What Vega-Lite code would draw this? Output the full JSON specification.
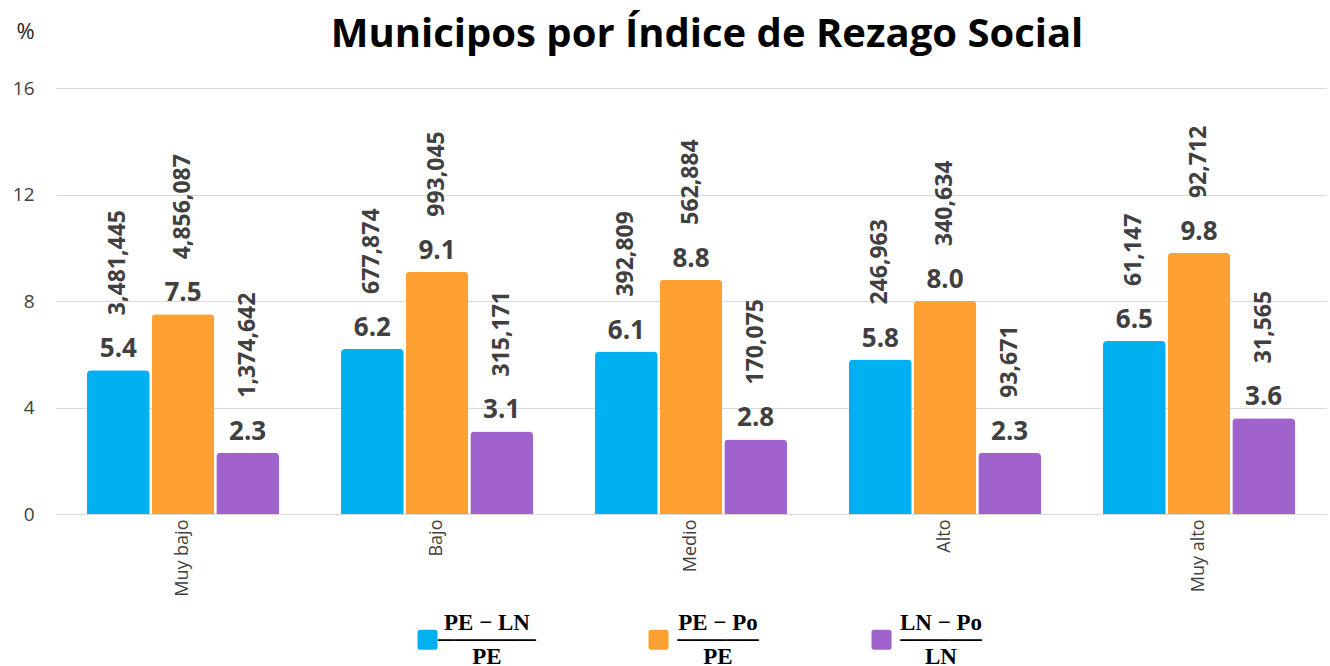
{
  "$schema": "https://vega.github.io/schema/vega-lite/v6.json",
  "width": 1270,
  "height": 426,
  "autosize": "none",
  "padding": {"left": 56, "top": 88, "right": 4, "bottom": 152},
  "config": {"view": {"stroke": null}, "font": "Open Sans"},
  "title": {
    "text": "Municipos por Índice de Rezago Social",
    "font": "Open Sans",
    "fontSize": 40,
    "fontWeight": "bold",
    "color": "#000000",
    "anchor": "middle",
    "frame": "group",
    "baseline": "alphabetic",
    "offset": 0,
    "dy": 67,
    "dx": 16
  },
  "data": {
    "values": [
      {"cat": "Muy bajo", "serie": "A", "value": 5.4, "count": 3481445},
      {"cat": "Muy bajo", "serie": "B", "value": 7.5, "count": 4856087},
      {"cat": "Muy bajo", "serie": "C", "value": 2.3, "count": 1374642},
      {"cat": "Bajo", "serie": "A", "value": 6.2, "count": 677874},
      {"cat": "Bajo", "serie": "B", "value": 9.1, "count": 993045},
      {"cat": "Bajo", "serie": "C", "value": 3.1, "count": 315171},
      {"cat": "Medio", "serie": "A", "value": 6.1, "count": 392809},
      {"cat": "Medio", "serie": "B", "value": 8.8, "count": 562884},
      {"cat": "Medio", "serie": "C", "value": 2.8, "count": 170075},
      {"cat": "Alto", "serie": "A", "value": 5.8, "count": 246963},
      {"cat": "Alto", "serie": "B", "value": 8.0, "count": 340634},
      {"cat": "Alto", "serie": "C", "value": 2.3, "count": 93671},
      {"cat": "Muy alto", "serie": "A", "value": 6.5, "count": 61147},
      {"cat": "Muy alto", "serie": "B", "value": 9.8, "count": 92712},
      {"cat": "Muy alto", "serie": "C", "value": 3.6, "count": 31565}
    ]
  },
  "encoding": {
    "x": {
      "field": "cat",
      "type": "nominal",
      "sort": ["Muy bajo", "Bajo", "Medio", "Alto", "Muy alto"],
      "scale": {"paddingInner": 0.244, "paddingOuter": 0.122},
      "axis": {
        "title": null,
        "labelAngle": -90,
        "labelAlign": "right",
        "labelBaseline": "middle",
        "labelFontSize": 18,
        "labelColor": "#404040",
        "labelPadding": 5,
        "ticks": false,
        "domain": false
      }
    },
    "xOffset": {
      "field": "serie",
      "type": "nominal",
      "sort": ["A", "B", "C"],
      "scale": {"paddingInner": 0.03}
    },
    "y": {
      "field": "value",
      "type": "quantitative",
      "scale": {"domain": [0, 16]},
      "axis": {
        "title": "%",
        "titleAngle": 0,
        "titleX": -31,
        "titleY": -50,
        "titleAlign": "center",
        "titleBaseline": "alphabetic",
        "titleFontSize": 22,
        "titleFontWeight": "normal",
        "titleColor": "#262626",
        "values": [0, 4, 8, 12, 16],
        "labelFontSize": 19,
        "labelColor": "#404040",
        "labelPadding": 22,
        "ticks": false,
        "domain": false,
        "gridColor": "#D9D9D9"
      }
    }
  },
  "layer": [
    {
      "mark": {"type": "bar", "cornerRadiusTopLeft": 4, "cornerRadiusTopRight": 4},
      "encoding": {
        "color": {
          "field": "serie",
          "type": "nominal",
          "scale": {"domain": ["A", "B", "C"], "range": ["#00B0F0", "#FFA033", "#A063CD"]},
          "legend": {
            "orient": "none",
            "legendX": 360,
            "legendY": 540,
            "direction": "horizontal",
            "title": null,
            "padding": 0,
            "symbolType": "M-0.75,-1H0.75Q1,-1 1,-0.75V0.75Q1,1 0.75,1H-0.75Q-1,1 -1,0.75V-0.75Q-1,-1 -0.75,-1Z",
            "symbolSize": 400,
            "symbolStrokeWidth": 0,
            "symbolOpacity": 1,
            "labelFont": "Liberation Serif",
            "labelFontWeight": "bold",
            "labelFontSize": 23,
            "labelColor": "#000000",
            "labelAlign": "center",
            "labelOffset": 48,
            "labelLimit": 0,
            "columnPadding": 111,
            "labelExpr": "datum.value == 'A' ? ['PE − LN','──────','PE'] : datum.value == 'B' ? ['PE − Po','─────','PE'] : ['LN − Po','─────','LN']",
            "encode": {"labels": {"update": {"lineHeight": {"value": 17}, "dy": {"value": -17}}}}
          }
        }
      }
    },
    {
      "mark": {"type": "text", "dy": -13, "baseline": "alphabetic", "fontSize": 26, "fontWeight": "bold", "color": "#404040"},
      "encoding": {"text": {"field": "value", "type": "quantitative", "format": ".1f"}}
    },
    {
      "mark": {"type": "text", "angle": -90, "align": "left", "baseline": "middle", "dx": 55, "fontSize": 23, "fontWeight": "bold", "color": "#404040"},
      "encoding": {"text": {"field": "count", "type": "quantitative", "format": ",d"}}
    }
  ]
}
